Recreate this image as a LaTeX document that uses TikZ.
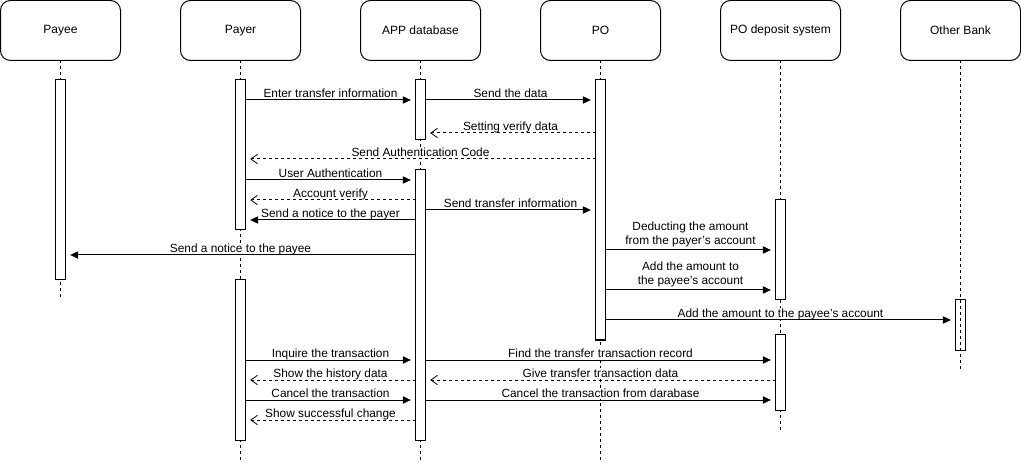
\documentclass[tikz,border=0pt]{standalone}
\usepackage{fontspec}
\setmainfont{Liberation Sans}
\usetikzlibrary{arrows.meta}

\begin{document}
\begin{tikzpicture}[x=0.75pt, y=-0.75pt,
    party/.style={draw, rounded corners=7.5pt, line width=0.75pt, minimum width=90pt, minimum height=45pt, inner sep=0pt, outer sep=0pt, font=\fontsize{9pt}{11pt}\selectfont},
    life/.style={line width=0.75pt, dash pattern=on 2.25pt off 2.25pt},
    act/.style={draw, fill=white, line width=0.75pt, minimum width=7.5pt, inner sep=0pt, outer sep=0pt, anchor=north},
    call/.style={line width=0.75pt, shorten >=3.5pt, -{Triangle[length=6pt,width=5.5pt]}},
    reply/.style={line width=0.75pt, dash pattern=on 2.25pt off 2.25pt, shorten >=3.5pt, -{Straight Barb[length=5pt,width=7pt,line width=0.6pt]}},
    lbl/.style={anchor=base, yshift=2.2pt, inner sep=0.5pt, text depth=1pt, fill=white, font=\fontsize{8.9pt}{10.5pt}\selectfont},
    lbltwo/.style={lbl, text depth=2pt, align=center, anchor=south, yshift=-1pt}]

    \useasboundingbox (0,0) rectangle (1021,463);

    % participants
    \node[party] (payee) at (60.5,30.5) {Payee};
    \node[party] (payer) at (240.5,30.5) {Payer};
    \node[party] (app) at (420.5,30.5) {APP database};
    \node[party] (po) at (600.5,30.5) {PO};
    \node[party] (dep) at (780.5,30.5) {PO deposit system};
    \node[party] (bank) at (960.5,30.5) {Other Bank};

    % lifelines
    \coordinate (payeeEnd) at (60.5,300);
    \coordinate (payerEnd) at (240.5,460);
    \coordinate (appEnd) at (420.5,460);
    \coordinate (poEnd) at (600.5,460);
    \coordinate (depEnd) at (780.5,430);
    \coordinate (bankEnd) at (960.5,370);
    \draw[life] (payee.south) -- (payeeEnd);
    \draw[life] (payer.south) -- (payerEnd);
    \draw[life] (app.south) -- (appEnd);
    \draw[life] (po.south) -- (poEnd);
    \draw[life] (dep.south) -- (depEnd);
    \draw[life] (bank.south) -- (bankEnd);

    % activation bars
    \node[act, minimum height=150pt] (payeeA) at (60.5,80) {};
    \node[act, minimum height=112.5pt] (payerA) at (240.5,80) {};
    \node[act, minimum height=120pt] (payerB) at (240.5,280) {};
    \node[act, minimum height=45pt] (appA) at (420.5,80) {};
    \node[act, minimum height=202.5pt] (appB) at (420.5,170) {};
    \node[act, minimum height=195pt] (poA) at (600.5,80) {};
    \node[act, minimum height=75pt] (depA) at (780.5,200) {};
    \node[act, minimum height=56.25pt] (depB) at (780.5,335) {};
    \node[act, fill=none, minimum height=37.5pt] (bankA) at (960.5,300) {};

    % transfer
    \draw[call] (payerA.east |- 0,100) -- node[lbl] {Enter transfer information} (appA.west |- 0,100);
    \draw[call] (appA.east |- 0,100) -- node[lbl] {Send the data} (poA.west |- 0,100);
    \draw[reply] (poA.west |- 0,133) -- node[lbl] {Setting verify data} (appA.east |- 0,133);
    \draw[reply] (poA.west |- 0,159) -- node[lbl] {Send Authentication Code} (payerA.east |- 0,159);
    \draw[call] (payerA.east |- 0,180) -- node[lbl] {User Authentication} (appB.west |- 0,180);
    \draw[reply] (appB.west |- 0,200) -- node[lbl] {Account verify} (payerA.east |- 0,200);
    \draw[call] (appB.west |- 0,220) -- node[lbl] {Send a notice to the payer} (payerA.east |- 0,220);
    \draw[call] (appB.east |- 0,210) -- node[lbl] {Send transfer information} (poA.west |- 0,210);
    \draw[call] (appB.west |- 0,255) -- node[lbl] {Send a notice to the payee} (payeeA.east |- 0,255);
    \draw[call] (poA.east |- 0,250) -- node[lbltwo] {Deducting the amount\\from the payer's account} (depA.west |- 0,250);
    \draw[call] (poA.east |- 0,290) -- node[lbltwo] {Add the amount to\\the payee's account} (depA.west |- 0,290);
    \draw[call] (poA.east |- 0,320) -- node[lbl] {Add the amount to the payee's account} (bankA.west |- 0,320);

    % history and cancel
    \draw[call] (payerB.east |- 0,360) -- node[lbl] {Inquire the transaction} (appB.west |- 0,360);
    \draw[call] (appB.east |- 0,360) -- node[lbl] {Find the transfer transaction record} (depB.west |- 0,360);
    \draw[reply] (appB.west |- 0,380) -- node[lbl] {Show the history data} (payerB.east |- 0,380);
    \draw[reply] (depB.west |- 0,380) -- node[lbl] {Give transfer transaction data} (appB.east |- 0,380);
    \draw[call] (payerB.east |- 0,400) -- node[lbl] {Cancel the transaction} (appB.west |- 0,400);
    \draw[call] (appB.east |- 0,400) -- node[lbl] {Cancel the transaction from darabase} (depB.west |- 0,400);
    \draw[reply] (appB.west |- 0,420) -- node[lbl] {Show successful change} (payerB.east |- 0,420);
\end{tikzpicture}
\end{document}
